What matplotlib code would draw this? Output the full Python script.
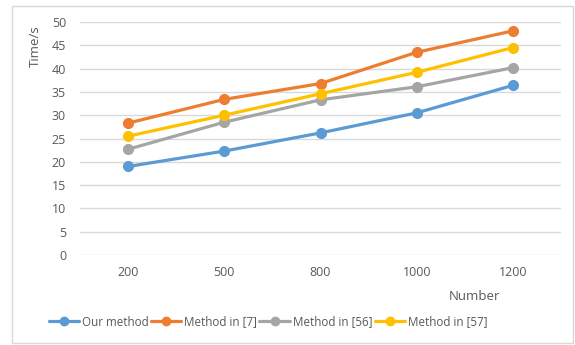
import numpy as np
import matplotlib.pyplot as plt
from matplotlib.patches import Rectangle

# data
numbers = ['200', '500', '800', '1000', '1200']
our_method = [19.0, 22.3, 26.2, 30.5, 36.4]
method_7 = [28.3, 33.4, 36.8, 43.5, 48.1]
method_56 = [22.7, 28.5, 33.3, 36.1, 40.2]
method_57 = [25.5, 30.0, 34.6, 39.2, 44.5]

series = [('Our method', our_method, '#5B9BD5'),
          ('Method in [7]', method_7, '#ED7D31'),
          ('Method in [56]', method_56, '#A5A5A5'),
          ('Method in [57]', method_57, '#FFC000')]

txt = '#595959'
plt.rcParams['font.family'] = ['Open Sans', 'DejaVu Sans']

W, H = 575, 345
fig = plt.figure(figsize=(W / 100, H / 100), dpi=100)
ax = fig.add_axes([80 / W, 1 - 255 / H, 481 / W, 233 / H])

x = np.arange(len(numbers))
for name, vals, col in series:
    ax.plot(x, vals, color=col, lw=2.3, marker='o', markersize=7, label=name,
            solid_capstyle='round')

ax.set_xlim(-0.5, len(numbers) - 0.5)
ax.set_ylim(0, 50)
ax.set_yticks(range(0, 51, 5))
ax.set_xticks(x)
ax.set_xticklabels(numbers)
ax.grid(axis='y', color='#D9D9D9', lw=1)
ax.set_axisbelow(True)
for s in ax.spines.values():
    s.set_visible(False)
ax.tick_params(length=0, labelsize=9, colors=txt, pad=8)
ax.tick_params(axis='y', pad=10)

fig.text(35 / W, 1 - 46 / H, 'Time/s', rotation=90, ha='center', va='center',
         fontsize=9.5, color=txt)
fig.text(475 / W, 1 - 297 / H, 'Number', ha='center', va='center',
         fontsize=9.5, color=txt)

leg = fig.legend(loc='center', bbox_to_anchor=(268 / W, 1 - 322 / H), ncol=4,
                 frameon=False, fontsize=8.4, labelcolor=txt, handlelength=2.6,
                 columnspacing=0.2, handletextpad=0.25)
for h in leg.legend_handles:
    h.set_markersize(6)

fig.patches.append(Rectangle((12 / W, 1 - 343 / H), 561 / W, 337 / H,
                             transform=fig.transFigure, fill=False,
                             edgecolor='#D9D9D9', lw=1))

fig.savefig('out.png', dpi=100)
